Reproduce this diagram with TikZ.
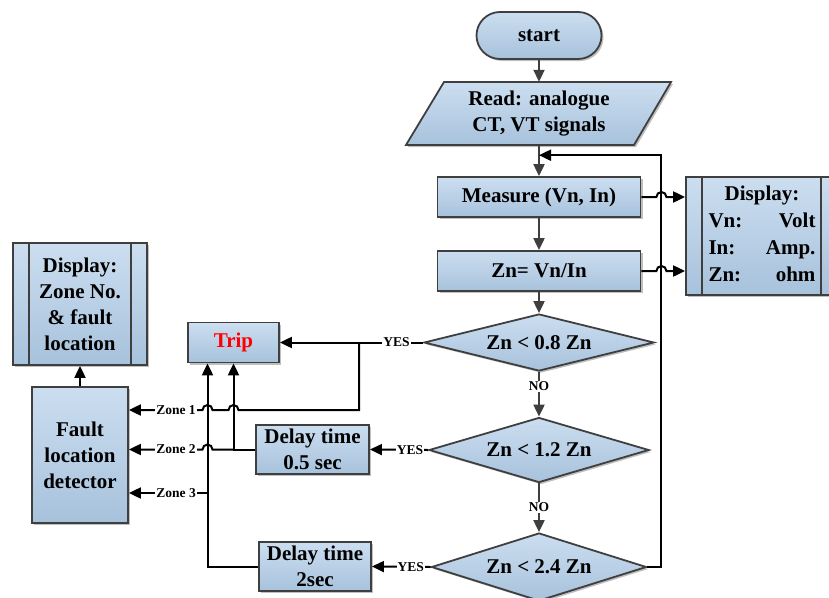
\documentclass[tikz,border=0pt]{standalone}
\usepackage{fontspec}
\setmainfont{Liberation Serif}
\usetikzlibrary{arrows.meta,calc,shapes.misc,shapes.geometric,shadows}
\definecolor{bord}{HTML}{3F3F3F}
\definecolor{ftop}{HTML}{CCDEF0}
\definecolor{fbot}{HTML}{A7C2DC}
\definecolor{tripred}{HTML}{FF0000}
\newcommand\mainfnt{\fontsize{21}{26}\selectfont\bfseries}
\newcommand\lblfnt{\fontsize{13.5}{15}\selectfont\bfseries}
\tikzset{
  shad/.style={drop shadow={shadow xshift=2pt,shadow yshift=-2pt,opacity=0.25,fill=black}},
  box/.style={draw=bord,line width=1.8pt,top color=ftop,bottom color=fbot,
    inner sep=0pt,align=center,font=\mainfnt,shad},
  dec/.style={box,diamond,aspect=4},
  lbl/.style={fill=white,inner sep=1pt,font=\lblfnt},
  garrow/.style={draw=bord,line width=2pt,-{Triangle[length=12pt,width=11pt]}},
  barrow/.style={draw=black,line width=2pt,-{Triangle[length=12pt,width=11pt]}},
  bline/.style={draw=black,line width=2pt},
  inner/.style={draw=bord,line width=1.8pt}
}
\begin{document}
\begin{tikzpicture}[x=1pt,y=1pt]
\useasboundingbox (0,0) rectangle (829,-597);
\clip (0,0) rectangle (829,-597);
\fill[white] (0,0) rectangle (829,-597);

% main column
\node[box,rounded rectangle,minimum width=125pt,minimum height=47pt] (start) at (539,-35.5) {start};
\path[box] (444,-82) -- (671,-82) -- (634,-145) -- (406,-145) -- cycle;
\node[font=\mainfnt,align=center,minimum width=228pt,minimum height=63pt,inner sep=0pt] (read) at (539,-113.5) {Read: analogue\\CT, VT signals};
\node[box,minimum width=203pt,minimum height=40pt] (measure) at (539,-197) {Measure (Vn, In)};
\node[box,minimum width=203pt,minimum height=40pt] (zn) at (539,-271) {Zn= Vn/In};
\node[dec,minimum width=230pt,minimum height=57pt] (d1) at (539,-342.5) {Zn < 0.8 Zn};
\node[dec,minimum width=220pt,minimum height=65pt] (d2) at (539,-450) {Zn < 1.2 Zn};
\node[dec,minimum width=215pt,minimum height=68pt] (d3) at (539,-567) {Zn < 2.4 Zn};

% right display
\node[box,minimum width=152pt,minimum height=118pt] (dispr) at (762,-236)
  {\renewcommand\arraystretch{1.04}\begin{tabular*}{107pt}{@{}l@{\extracolsep{\fill}}r@{}}\multicolumn{2}{c}{Display:}\\Vn: & Volt\\In: & Amp.\\Zn: & ohm\end{tabular*}};
\draw[inner] ($(dispr.north west)+(17,0)$) -- ($(dispr.south west)+(17,0)$);
\draw[inner] ($(dispr.north east)+(-18,0)$) -- ($(dispr.south east)+(-18,0)$);

% left side
\node[box,minimum width=91pt,minimum height=40pt,text=tripred] (trip) at (233.5,-342.5) {Trip};
\node[box,minimum width=113pt,minimum height=49pt] (delay1) at (312.5,-449.5) {Delay time\\0.5 sec};
\node[box,minimum width=112pt,minimum height=49pt] (delay2) at (315,-566.5) {Delay time\\2sec};
\node[box,minimum width=96pt,minimum height=136pt] (fault) at (80,-455) {Fault\\location\\detector};
\node[box,minimum width=134pt,minimum height=122pt] (displ) at (80,-304) {Display:\\Zone No.\\\& fault\\location};
\draw[inner] ($(displ.north west)+(17,0)$) -- ($(displ.south west)+(17,0)$);
\draw[inner] ($(displ.north east)+(-17,0)$) -- ($(displ.south east)+(-17,0)$);

\coordinate (loopend) at ($(read.south)+(0,-10)$);
\coordinate (b1) at (359,-342.5);
\coordinate (vA) at ($(trip.south)+(-26,0)$);

% main flow
\draw[garrow] (start.south) -- (read.north);
\draw[garrow] (read.south) -- (measure.north);
\draw[garrow] (measure.south) -- (zn.north);
\draw[garrow] (zn.south) -- (d1.north);
\draw[garrow] (d1.south) -- node[lbl,pos=0.32]{NO} (d2.north);
\draw[garrow] (d2.south) -- node[lbl,pos=0.49]{NO} (d3.north);

% loop
\draw[barrow] (d3.east) -- ++(14,0) |- (loopend);
\draw[barrow] (measure.east) -- ++(15,0) arc[start angle=180,end angle=0,radius=5pt] -- (dispr.west |- measure.east);
\draw[barrow] (zn.east) -- ++(15,0) arc[start angle=180,end angle=0,radius=5pt] -- (dispr.west |- zn.east);

% yes branches
\draw[barrow] (d1.west) -- node[lbl,pos=0.185]{YES} (trip.east);
\draw[barrow] (d2.west) -- node[lbl,pos=0.31]{YES} (delay1.east);
\draw[barrow] (d3.west) -- node[lbl,pos=0.34]{YES} (delay2.east);

% to trip
\draw[barrow] (delay1.west) -| (trip.south);
\draw[barrow] (delay2.west) -| (vA);

% zones
\draw[barrow] (b1) -- (359,-410) -- (238.5,-410) arc[start angle=0,end angle=180,radius=5pt]
  -- (212.5,-410) arc[start angle=0,end angle=180,radius=5pt]
  -- node[lbl,pos=0.36]{Zone 1} (fault.east |- 0,-410);
\draw[barrow] (233.5,-449.5) -- (212.5,-449.5) arc[start angle=0,end angle=180,radius=5pt]
  -- node[lbl,pos=0.36]{Zone 2} (fault.east |- 0,-449.5);
\draw[barrow] (207.5,-493) -- node[lbl,pos=0.4]{Zone 3} (fault.east |- 0,-493);

\draw[barrow] (fault.north) -- (displ.south);
\end{tikzpicture}
\end{document}
